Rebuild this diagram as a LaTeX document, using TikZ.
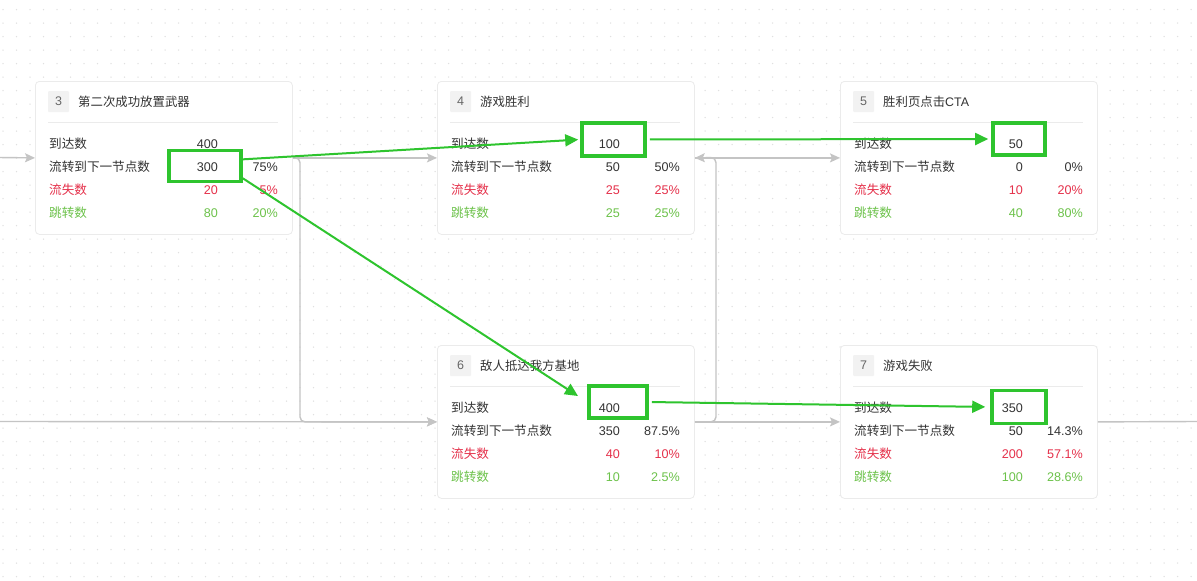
\documentclass[tikz,border=0pt]{standalone}
\usepackage{fontspec}
\setmainfont{Liberation Sans}
\newfontfamily\cjk{Noto Sans CJK SC}
\usetikzlibrary{positioning,arrows.meta,calc}

\definecolor{txtdark}{HTML}{333333}
\definecolor{txtgray}{HTML}{666666}
\definecolor{lossred}{HTML}{E5304A}
\definecolor{jumpgreen}{HTML}{6CC24A}
\definecolor{hlgreen}{HTML}{2EC42E}
\definecolor{linkgray}{HTML}{C4C4C4}
\definecolor{cardline}{HTML}{EBEBEB}
\definecolor{dotgray}{HTML}{E0E0E0}
\definecolor{idxfill}{HTML}{F2F2F2}
\colorlet{row1}{txtdark}
\colorlet{row2}{txtdark}
\colorlet{row3}{lossred}
\colorlet{row4}{jumpgreen}

\tikzset{
  card/.style={draw=cardline,fill=white,rounded corners=4pt,line width=0.8pt,
    minimum width=257pt,minimum height=153pt,inner sep=0pt},
  idxbox/.style={fill=idxfill,text=txtgray,minimum size=21pt,inner sep=0pt,
    rounded corners=1pt,font=\fontsize{12.5}{15}\selectfont},
  cardtitle/.style={anchor=base west,inner sep=0pt,text=txtdark,
    font=\cjk\fontsize{12.4}{15}\selectfont},
  rowtxt/.style={inner sep=0pt,font=\fontsize{12.6}{15}\selectfont},
  hl/.style={draw=hlgreen,line width=3.6pt,inner sep=0pt},
  flow/.style={draw=linkgray,line width=1.4pt,-{Stealth[length=10pt,width=9pt,inset=2pt]}},
  flowline/.style={draw=linkgray,line width=1.4pt},
  hlarrow/.style={draw=hlgreen,line width=2pt,-{Triangle[length=13pt,width=12pt]}},
}

\newcommand\rowlabel[1]{\ifcase#1\or 到达数\or 流转到下一节点数\or 流失数\or 跳转数\fi}

% 卡片: 名称, 左上角, 序号, 标题, 数据
\newcommand\funnelcard[5]{%
  \node[card,anchor=north west] (#1) at (#2) {};
  \begin{scope}[shift={(#2)}]
    \node[idxbox] (#1-idx) at (23.5,20.5) {#3};
    \node[cardtitle] (#1-title) at (43,25) {#4};
    \draw[cardline,line width=0.8pt] (13,41) -- (243,41);
    \foreach \v/\p [count=\i] in {#5} {
      \node[rowtxt,anchor=base west,text=row\i] (#1-l\i) at (14,44.5+23*\i) {\cjk\rowlabel{\i}};
      \node[rowtxt,anchor=base east,text=row\i] (#1-v\i) at (183,44.5+23*\i) {\v};
      \node[rowtxt,anchor=base east,text=row\i] (#1-p\i) at (243,44.5+23*\i) {\p};
    }
  \end{scope}
}

\begin{document}
\begin{tikzpicture}[x=1pt,y=-1pt]
  % 背景点阵
  \useasboundingbox (0,0) rectangle (1197,581);
  \fill[white] (0,0) rectangle (1197,581);
  \foreach \gx in {0,...,88}
    \foreach \gy in {0,...,42}
      \fill[dotgray] (3+13.5*\gx,9.5+13.5*\gy) circle (0.75);

  % 卡片
  \funnelcard{c3}{35,81}{3}{第二次成功放置武器}{400/{},300/75\%,20/5\%,80/20\%}
  \funnelcard{c4}{437,81}{4}{游戏胜利}{100/{},50/50\%,25/25\%,25/25\%}
  \funnelcard{c5}{840,81}{5}{胜利页点击{\rmfamily CTA}}{50/{},0/0\%,10/20\%,40/80\%}
  \funnelcard{c6}{437,345}{6}{敌人抵达我方基地}{400/{},350/87.5\%,40/10\%,10/2.5\%}
  \funnelcard{c7}{840,345}{7}{游戏失败}{350/{},50/14.3\%,200/57.1\%,100/28.6\%}

  % 灰色连线
  \coordinate (inA) at (0,157.5);
  \coordinate (inB) at (0,421.5);
  \coordinate (j1) at (300,157.5);
  \coordinate (j2) at (716,157.5);
  \coordinate (outR) at (1197,421.5);
  \draw[flow] (inA) -- (c3.west);
  \draw[flow] (inB) -- (c6.west);
  \draw[flow] (c3.east) -- (c4.west);
  \draw[flow,rounded corners=5pt] (c3.east) -- (j1) |- (c6.west);
  \draw[flow] (c4.east) -- (c5.west);
  \draw[flow,rounded corners=5pt] (c6.east) -| (j2) -- (c4.east);
  \draw[flow] (c6.east) -- (c7.west);
  \draw[flowline] (c7.east) -- (outR);

  % 绿色标注
  \node[hl,minimum width=72pt,minimum height=31pt] (hA) at (205,166) {};
  \node[hl,minimum width=63pt,minimum height=33pt] (hB) at (613.5,139.5) {};
  \node[hl,minimum width=52pt,minimum height=32pt] (hC) at (1019,139) {};
  \node[hl,minimum width=58pt,minimum height=32pt] (hD) at (618,402) {};
  \node[hl,minimum width=54pt,minimum height=33pt] (hE) at (1019,407) {};
  \draw[hlarrow,shorten >=2pt] (hA.10) -- (hB.west);
  \draw[hlarrow,shorten >=11pt] (hA.-18) -- (hD.west);
  \draw[hlarrow,shorten <=3pt,shorten >=3pt] (hB.east) -- (hC.west);
  \draw[hlarrow,shorten <=3pt,shorten >=5pt] (hD.east) -- (hE.west);
\end{tikzpicture}
\end{document}
